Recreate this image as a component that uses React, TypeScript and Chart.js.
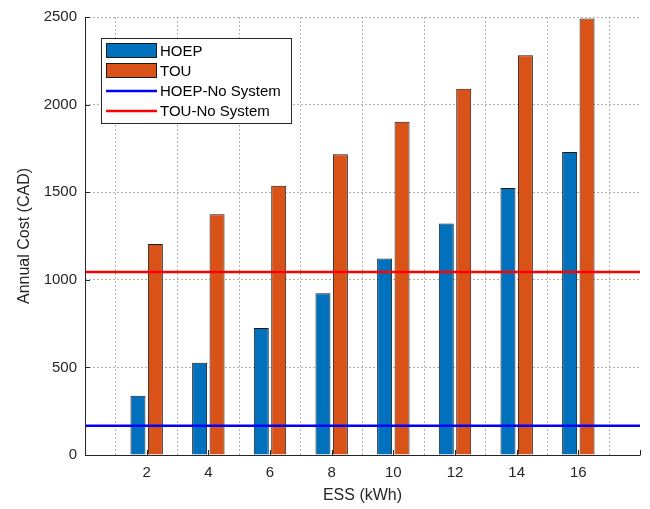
import React, { useEffect, useRef } from 'react';
import { Chart, registerables } from 'chart.js';

Chart.register(...registerables);

// ---- data ----
const essKWh = [2, 4, 6, 8, 10, 12, 14, 16];
const hoepCost = [338, 527, 725, 923, 1121, 1322, 1524, 1729];
const touCost = [1205, 1374, 1537, 1716, 1902, 2091, 2281, 2492];
const hoepNoSystem = 167;
const touNoSystem = 1044;
const xLimits = [0, 18];
const yLimits = [0, 2500];
const xTickStep = 2;
const yTickStep = 500;
const seriesLabels = ['HOEP', 'TOU', 'HOEP-No System', 'TOU-No System'];
const xTitle = 'ESS (kWh)';
const yTitle = 'Annual Cost (CAD)';

const FONT = "'Liberation Sans', Arial, Helvetica, sans-serif";
const AXIS = '#262626';
const GRID = '#b0b0b0';

const matlabPlugin = {
  id: 'matlabAxes',
  afterDatasetsDraw(chart: any) {
    const { ctx, chartArea: a, scales } = chart;
    const x = scales.x;
    const y = scales.y;
    ctx.save();
    ctx.strokeStyle = AXIS;
    ctx.lineWidth = 1;
    ctx.setLineDash([]);
    ctx.beginPath();
    ctx.moveTo(a.left + 0.5, a.top);
    ctx.lineTo(a.left + 0.5, a.bottom + 0.5);
    ctx.lineTo(a.right + 0.5, a.bottom + 0.5);
    y.ticks.forEach((t: any) => {
      const py = Math.round(y.getPixelForValue(t.value)) + 0.5;
      ctx.moveTo(a.left, py);
      ctx.lineTo(a.left + 5, py);
    });
    x.ticks.forEach((t: any) => {
      if (t.value === xLimits[0]) return;
      const px = Math.round(x.getPixelForValue(t.value)) + 0.5;
      ctx.moveTo(px, a.bottom);
      ctx.lineTo(px, a.bottom - 5);
    });
    ctx.stroke();
    ctx.restore();
  },
  afterDraw(chart: any) {
    const { ctx } = chart;
    const ds = chart.data.datasets;
    const bx = 101, by = 38, bw = 190, bh = 85;
    ctx.save();
    ctx.setLineDash([]);
    ctx.fillStyle = '#ffffff';
    ctx.fillRect(bx, by, bw, bh);
    ctx.strokeStyle = AXIS;
    ctx.lineWidth = 1;
    ctx.strokeRect(bx + 0.5, by + 0.5, bw, bh);
    const rows = [51, 71, 91, 111];
    ctx.font = `15px ${FONT}`;
    ctx.textBaseline = 'middle';
    ctx.textAlign = 'left';
    rows.forEach((cy, i) => {
      const d = ds[i];
      if (i < 2) {
        ctx.fillStyle = d.backgroundColor;
        ctx.fillRect(106, cy - 8, 51, 15);
        ctx.strokeStyle = '#1a1a1a';
        ctx.lineWidth = 1;
        ctx.strokeRect(106.5, cy - 7.5, 50, 14);
      } else {
        ctx.strokeStyle = d.borderColor;
        ctx.lineWidth = 2.5;
        ctx.beginPath();
        ctx.moveTo(106, cy);
        ctx.lineTo(157, cy);
        ctx.stroke();
      }
      ctx.fillStyle = '#000000';
      ctx.fillText(d.label, 160, cy + 1);
    });
    ctx.restore();
  },
};

export default function App() {
  const ref = useRef<HTMLCanvasElement | null>(null);

  useEffect(() => {
    if (!ref.current) return;
    const barData = (vals: number[]) => essKWh.map((e, i) => ({ x: e, y: vals[i] }));
    const hLine = (v: number) => [
      { x: xLimits[0], y: v },
      { x: xLimits[1], y: v },
    ];
    const chart = new Chart(ref.current, {
      type: 'bar',
      data: {
        datasets: [
          {
            type: 'bar',
            label: seriesLabels[0],
            data: barData(hoepCost),
            backgroundColor: '#0072BD',
            borderColor: '#1a1a1a',
            borderWidth: 1,
            categoryPercentage: 0.565,
            barPercentage: 0.86,
            order: 1,
          },
          {
            type: 'bar',
            label: seriesLabels[1],
            data: barData(touCost),
            backgroundColor: '#D95319',
            borderColor: '#1a1a1a',
            borderWidth: 1,
            categoryPercentage: 0.565,
            barPercentage: 0.86,
            order: 1,
          },
          {
            type: 'line',
            label: seriesLabels[2],
            data: hLine(hoepNoSystem),
            borderColor: '#0000FF',
            backgroundColor: '#0000FF',
            borderWidth: 2.5,
            pointRadius: 0,
            order: 0,
          },
          {
            type: 'line',
            label: seriesLabels[3],
            data: hLine(touNoSystem),
            borderColor: '#FF0000',
            backgroundColor: '#FF0000',
            borderWidth: 2.5,
            pointRadius: 0,
            order: 0,
          },
        ] as any,
      },
      options: {
        animation: false,
        responsive: false,
        devicePixelRatio: 1,
        layout: { padding: { left: 0, top: 17, right: 10, bottom: 0 } },
        plugins: { legend: { display: false }, tooltip: { enabled: false } },
        scales: {
          x: {
            type: 'linear',
            min: xLimits[0],
            max: xLimits[1],
            offset: false,
            border: { display: false, dash: [2, 2] },
            grid: { color: GRID, lineWidth: 1, drawTicks: false },
            ticks: {
              stepSize: xTickStep,
              autoSkip: false,
              maxRotation: 0,
              padding: 9,
              color: AXIS,
              font: { family: FONT, size: 15 },
              callback: (v: any) => (v === xLimits[0] || v === xLimits[1] ? '' : String(v)),
            },
            title: {
              display: true,
              text: xTitle,
              color: AXIS,
              font: { family: FONT, size: 16 },
              padding: { top: 0, bottom: 4 },
            },
            afterFit: (s: any) => {
              s.height = 54;
            },
          },
          y: {
            min: yLimits[0],
            max: yLimits[1],
            border: { display: false, dash: [2, 2] },
            grid: { color: GRID, lineWidth: 1, drawTicks: false },
            ticks: {
              stepSize: yTickStep,
              padding: 8,
              color: AXIS,
              font: { family: FONT, size: 15 },
              callback: (v: any) => String(v),
            },
            title: {
              display: true,
              text: yTitle,
              color: AXIS,
              font: { family: FONT, size: 16 },
              padding: { top: 15, bottom: 0 },
            },
            afterFit: (s: any) => {
              s.width = 85;
            },
          },
        },
      } as any,
      plugins: [matlabPlugin],
    });
    return () => chart.destroy();
  }, []);

  return (
    <div style={{ position: 'fixed', left: 0, top: 0, width: 650, height: 509, background: '#fff' }}>
      <canvas ref={ref} width={650} height={509} style={{ width: 650, height: 509 }} />
    </div>
  );
}
